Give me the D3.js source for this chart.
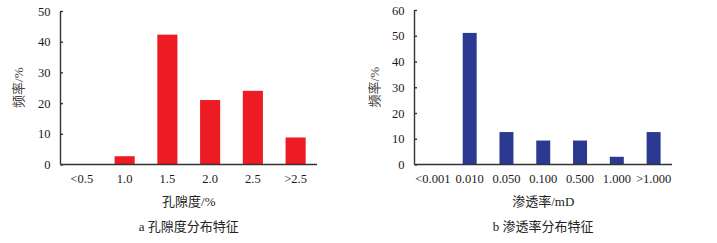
<!DOCTYPE html>
<html>
<head>
<meta charset="utf-8">
<script src="https://cdn.jsdelivr.net/npm/d3@7"></script>
<style>
  body { margin: 0; background: #fff; }
  svg { display: block; }
  text { font-family: "Liberation Serif", "Times New Roman", "Noto Sans CJK SC", serif; }
  .axis path, .axis line { stroke: #333; stroke-width: 1.4; }
  .axis text { font-size: 12.5px; fill: #1a1a1a; }
  .title { font-size: 13px; fill: #222; }
</style>
</head>
<body>
<svg id="chart" width="717" height="243"></svg>
<script>
// porosity chart (a)
const porCats = ['<0.5', '1.0', '1.5', '2.0', '2.5', '>2.5'];
const porVals = [0, 2.7, 42.3, 21.0, 24.0, 8.8];
const porTicks = [0, 10, 20, 30, 40, 50];

// permeability chart (b)
const permCats = ['<0.001', '0.010', '0.050', '0.100', '0.500', '1.000', '>1.000'];
const permVals = [0, 51.1, 12.6, 9.3, 9.3, 3.0, 12.6];
const permTicks = [0, 10, 20, 30, 40, 50, 60];

const svg = d3.select('#chart');

function drawPanel(opts) {
  const { cats, vals, ticks, color, x0, x1, yTop, yBot, pad, xTitle, caption, yLabelX } = opts;

  const x = d3.scaleBand().domain(cats).range([x0, x1]).paddingInner(pad).paddingOuter(pad / 2);
  const y = d3.scaleLinear().domain([0, d3.max(ticks)]).range([yBot, yTop]);

  const g = svg.append('g');

  g.selectAll('rect')
    .data(cats.map((c, i) => ({ c, v: vals[i] })))
    .join('rect')
    .attr('x', d => x(d.c))
    .attr('width', x.bandwidth())
    .attr('y', d => y(d.v))
    .attr('height', d => yBot - y(d.v))
    .attr('fill', color);

  g.append('g')
    .attr('class', 'axis')
    .attr('transform', `translate(${x0},0)`)
    .call(d3.axisLeft(y).tickValues(ticks).tickSize(-2.5).tickPadding(10).tickSizeOuter(0))
    .call(a => a.select('.domain').attr('d', `M0,${yTop}V${yBot}`));

  g.append('g')
    .attr('class', 'axis')
    .attr('transform', `translate(0,${yBot})`)
    .call(d3.axisBottom(x).tickSize(0).tickPadding(10))
    .call(a => a.select('.domain').attr('d', `M${x0},0H${x1}`));

  g.append('text')
    .attr('class', 'title')
    .attr('transform', `translate(${yLabelX},${(yTop + yBot) / 2}) rotate(-90)`)
    .attr('text-anchor', 'middle')
    .attr('dy', '0.35em')
    .style('fill', '#444')
    .text('频率/%');

  g.append('text')
    .attr('class', 'title')
    .attr('x', (x0 + x1) / 2)
    .attr('y', 206)
    .attr('text-anchor', 'middle')
    .text(xTitle);

  g.append('text')
    .attr('class', 'title')
    .attr('x', (x0 + x1) / 2)
    .attr('y', 231)
    .attr('text-anchor', 'middle')
    .text(caption);
}

drawPanel({
  cats: porCats, vals: porVals, ticks: porTicks, color: '#ed1c24',
  x0: 60.5, x1: 317, yTop: 11, yBot: 164.5, pad: 0.53,
  xTitle: '孔隙度/%', caption: 'a 孔隙度分布特征', yLabelX: 18
});

drawPanel({
  cats: permCats, vals: permVals, ticks: permTicks, color: '#2b3990',
  x0: 414.5, x1: 672, yTop: 10, yBot: 164.5, pad: 0.62,
  xTitle: '渗透率/mD', caption: 'b 渗透率分布特征', yLabelX: 374
});
</script>
</body>
</html>
